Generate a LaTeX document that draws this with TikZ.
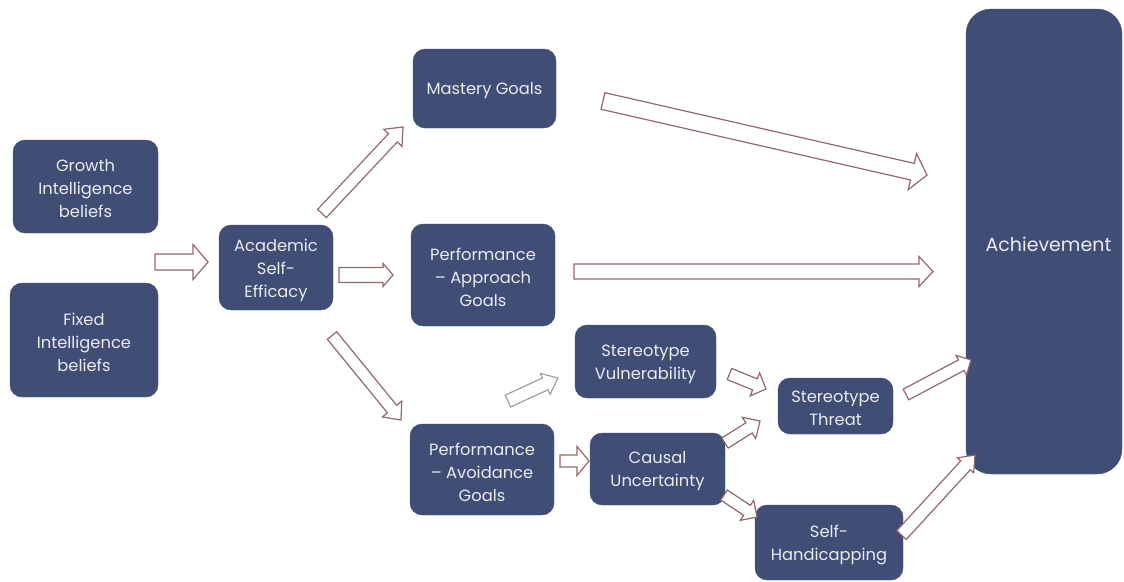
\documentclass[tikz,border=0pt]{standalone}
\usepackage{fontspec}
\setmainfont{Poppins}
\usetikzlibrary{calc}
\definecolor{boxblue}{RGB}{64,77,117}
\definecolor{boxtext}{RGB}{234,234,240}
\definecolor{arrowline}{RGB}{145,105,105}
\definecolor{arrowgray}{RGB}{160,160,160}
\tikzset{
  box/.style={rounded corners=12pt, fill=boxblue, draw=boxblue, inner sep=0pt},
  boxlabel/.style={text=boxtext, align=center, inner sep=0pt, yshift=-2.5pt,
    font=\fontsize{16.3}{23}\selectfont},
  txt/.style={label={[boxlabel]center:{#1}}},
}
% \blockarrow[colour]{from}{to}{shaft half width}{head half width}{head length}
\newcommand\blockarrow[6][arrowline]{%
  \draw[draw=#1, fill=white, line width=1.2pt, line join=miter]
    let \p1=($(#3)-(#2)$), \n1={atan2(\y1,\x1)}, \n2={veclen(\x1,\y1)} in
    ($(#2)+(\n1+90:#4pt)$)
    -- ($(#2)+(\n1:{(\n2-#6)*1pt})+(\n1+90:#4pt)$)
    -- ($(#2)+(\n1:{(\n2-#6)*1pt})+(\n1+90:#5pt)$)
    -- (#3)
    -- ($(#2)+(\n1:{(\n2-#6)*1pt})+(\n1-90:#5pt)$)
    -- ($(#2)+(\n1:{(\n2-#6)*1pt})+(\n1-90:#4pt)$)
    -- ($(#2)+(\n1-90:#4pt)$) -- cycle;}
\begin{document}
\begin{tikzpicture}[x=1pt,y=-1pt]
\useasboundingbox (0,0) rectangle (1124,581);

% boxes
\node[box, minimum width=145pt, minimum height=93pt,  txt={Growth\\Intelligence\\beliefs}]   (growth)  at (85.5,186.5) {};
\node[box, minimum width=148pt, minimum height=114pt, txt={Fixed\\Intelligence\\beliefs}]    (fixed)   at (84,340)     {};
\node[box, minimum width=114pt, minimum height=85pt,  txt={Academic\\Self-\\Efficacy}]       (acad)    at (276,267.5)  {};
\node[box, minimum width=143pt, minimum height=79pt,  txt={Mastery Goals}]                   (mastery) at (484.5,88.5) {};
\node[box, minimum width=144pt, minimum height=102pt, txt={Performance\\– Approach\\Goals}]  (pappr)   at (483,275)    {};
\node[box, minimum width=141pt, minimum height=73pt,  txt={Stereotype\\Vulnerability}]       (svuln)   at (645.5,361.5){};
\node[box, minimum width=144pt, minimum height=91pt,  txt={Performance\\– Avoidance\\Goals}] (pavoid)  at (482,469.5)  {};
\node[box, minimum width=135pt, minimum height=72pt,  txt={Causal\\Uncertainty}]             (causal)  at (657.5,469)  {};
\node[box, minimum width=115pt, minimum height=56pt,  txt={Stereotype\\Threat}]              (sthreat) at (835.5,406)  {};
\node[box, minimum width=148pt, minimum height=75pt,  txt={Self-\\Handicapping}]             (selfh)   at (829,542.5)  {};
\node[box, rounded corners=25pt, minimum width=156pt, minimum height=465pt,
      label={[boxlabel, font=\fontsize{19}{23}\selectfont, xshift=4.5pt]center:Achievement}] (achieve) at (1044,241.5) {};

% arrow end points
\coordinate (t1) at (155,262);   \coordinate (h1) at (208,262);
\coordinate (t2) at (339,275);   \coordinate (h2) at (393,275);
\coordinate (t3) at (322,213.5); \coordinate (h3) at (403,127);
\coordinate (t4) at (332,335.5); \coordinate (h4) at (401,420);
\coordinate (t5) at (603,101);   \coordinate (h5) at (927,175);
\coordinate (t6) at (574,271.5); \coordinate (h6) at (933,271.5);
\coordinate (t7) at (508,401);   \coordinate (h7) at (558,378);
\coordinate (t8) at (729.5,374); \coordinate (h8) at (766,389);
\coordinate (t9) at (560,461);   \coordinate (h9) at (589,461);
\coordinate (t10) at (725,443);  \coordinate (h10) at (760,421);
\coordinate (t11) at (724,495);  \coordinate (h11) at (757,517);
\coordinate (t12) at (906,394.5);\coordinate (h12) at (971,360);
\coordinate (t13) at (901.5,535);\coordinate (h13) at (975,455);

\blockarrow{t1}{h1}{8}{17.5}{15}
\blockarrow{t2}{h2}{7.5}{11.5}{10}
\blockarrow{t3}{h3}{6}{12.5}{14.5}
\blockarrow{t4}{h4}{6}{12.5}{14}
\blockarrow{t5}{h5}{8.5}{18.5}{15}
\blockarrow{t6}{h6}{7.5}{15}{14}
\blockarrow[arrowgray]{t7}{h7}{6.5}{11.5}{14}
\blockarrow{t8}{h8}{6}{12.5}{12}
\blockarrow{t9}{h9}{6}{14.5}{12}
\blockarrow{t10}{h10}{6}{12.5}{13}
\blockarrow{t11}{h11}{6}{12}{12}
\blockarrow{t12}{h12}{6}{11}{11}
\blockarrow{t13}{h13}{6.5}{11}{14}
\end{tikzpicture}
\end{document}
